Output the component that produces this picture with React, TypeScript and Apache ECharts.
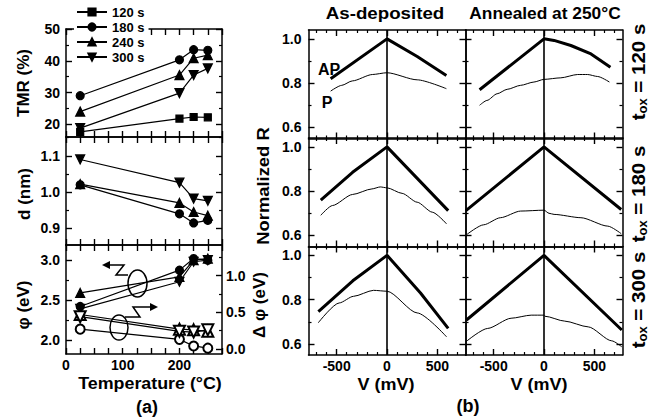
import React, { useEffect, useRef } from 'react';
import * as echarts from 'echarts';

const FONT = '"Liberation Sans", Arial, Helvetica, sans-serif';

// ---------- Panel (a) ----------
const temps = [25, 200, 225, 250];
const legendNames = ['120 s', '180 s', '240 s', '300 s'];
const tmr120 = [17.6, 21.8, 22.3, 22.2];
const tmr180 = [29.0, 40.3, 43.5, 43.3];
const tmr240 = [24.0, 35.5, 40.8, 41.8];
const tmr300 = [18.8, 29.8, 35.5, 37.6];
const d180 = [1.02, 0.94, 0.915, 0.922];
const d240 = [1.022, 0.97, 0.945, 0.935];
const d300 = [1.09, 1.026, 0.982, 0.976];
const phi180 = [2.42, 2.875, 3.02, 3.0];
const phi240 = [2.59, 2.79, 3.0, 3.02];
const phi300 = [2.39, 2.73, 2.98, 3.0];
const dphi180 = [0.27, 0.13, 0.04, 0.01];
const dphi240 = [0.47, 0.27, 0.26, 0.24];
const dphi300 = [0.44, 0.24, 0.23, 0.26];

const tempTicks = [0, 25, 50, 75, 100, 125, 150, 175, 200, 225, 250, 275];
const tempLabels = [0, 100, 200];
const tmrLabels = [20, 30, 40, 50];
const tmrMinor = [25, 35, 45];
const dLabels = [0.9, 1.0, 1.1];
const dMinor = [0.95, 1.05, 1.15];
const phiLabels = [2.0, 2.5, 3.0];
const phiMinor = [2.25, 2.75];
const dphiLabels = [0.0, 0.5, 1.0];
const dphiMinor = [0.25, 0.75, 1.25];

// ---------- Panel (b) ----------
const vLabels = [-500, 0, 500];
const vMinor = [-700, -600, -400, -300, -200, -100, 100, 200, 300, 400, 600, 700];
const rLabels = [0.6, 0.8, 1.0];
const rMinor = [0.7, 0.9];
const rowNames = ['120 s', '180 s', '300 s'];
const colTitles = ['As-deposited', 'Annealed at 250°C'];

// t_ox = 120 s
const v120DepAP = [-560, 0, 300, 590];
const r120DepAP = [0.82, 1.0, 0.92, 0.835];
const v120DepP = [-560, -450, -345, -145, 0, 300, 590];
const r120DepP = [0.764, 0.79, 0.81, 0.839, 0.847, 0.815, 0.775];
const v120AnnAP = [-640, -320, 0, 100, 267, 467, 660];
const r120AnnAP = [0.77, 0.885, 1.0, 0.993, 0.97, 0.932, 0.872];
const v120AnnP = [-640, -566, -466, -366, -233, -100, 0, 167, 334, 433, 533, 650];
const r120AnnP = [0.70, 0.722, 0.752, 0.772, 0.79, 0.805, 0.817, 0.824, 0.839, 0.839, 0.83, 0.805];
// t_ox = 180 s
const v180DepAP = [-658, -342, 0, 608];
const r180DepAP = [0.759, 0.885, 1.0, 0.712];
const v180DepP = [-658, -542, -342, -150, -67, 0, 150, 300, 450, 592];
const r180DepP = [0.691, 0.735, 0.785, 0.81, 0.819, 0.815, 0.79, 0.75, 0.705, 0.652];
const v180AnnAP = [-776, 0, 767];
const r180AnnAP = [0.712, 1.0, 0.717];
const v180AnnP = [-767, -600, -433, -233, 0, 50, 100, 367, 634, 767];
const r180AnnP = [0.604, 0.648, 0.68, 0.71, 0.714, 0.70, 0.695, 0.68, 0.642, 0.608];
// t_ox = 300 s
const v300DepAP = [-682, -340, 0, 333, 608];
const r300DepAP = [0.746, 0.885, 1.0, 0.83, 0.67];
const v300DepP = [-682, -475, -333, -134, 0, 300, 592];
const r300DepP = [0.696, 0.785, 0.815, 0.842, 0.838, 0.74, 0.632];
const v300AnnAP = [-770, 0, 773];
const r300AnnAP = [0.708, 1.0, 0.663];
const v300AnnP = [-770, -560, -327, -127, 0, 10, 206, 440, 673, 773];
const r300AnnP = [0.612, 0.67, 0.716, 0.73, 0.73, 0.725, 0.703, 0.677, 0.614, 0.587];

const curvesB = [
  [[v120DepAP, r120DepAP, v120DepP, r120DepP], [v120AnnAP, r120AnnAP, v120AnnP, r120AnnP]],
  [[v180DepAP, r180DepAP, v180DepP, r180DepP], [v180AnnAP, r180AnnAP, v180AnnP, r180AnnP]],
  [[v300DepAP, r300DepAP, v300DepP, r300DepP], [v300AnnAP, r300AnnAP, v300AnnP, r300AnnP]],
];

const zip = (xs: number[], ys: number[]) => xs.map((x, i) => [x, ys[i]]);

type Side = 'left' | 'right' | 'top' | 'bottom';
function addAxis(
  list: any[], grid: number, pos: Side, min: number, max: number,
  major: number[], minor: number[], labels: number[] | null, dec: number, margin: number,
): number {
  const idx = list.length;
  const common = {
    type: 'value', gridIndex: grid, position: pos, min, max,
    splitLine: { show: false }, splitArea: { show: false },
  };
  list.push({
    ...common,
    axisLine: { show: true, onZero: false, lineStyle: { color: '#000', width: 1.5 } },
    axisTick: { show: true, inside: true, length: 6, customValues: major, lineStyle: { color: '#000', width: 1.4 } },
    axisLabel: labels
      ? {
          show: true, customValues: labels, margin,
          formatter: (v: number) => v.toFixed(dec),
          color: '#000', fontFamily: FONT, fontWeight: 'bold', fontSize: 14, lineHeight: 14,
        }
      : { show: false },
  });
  if (minor.length) {
    list.push({
      ...common,
      axisLine: { show: false, onZero: false },
      axisTick: { show: true, inside: true, length: 3, customValues: minor, lineStyle: { color: '#000', width: 1.2 } },
      axisLabel: { show: false },
    });
  }
  return idx;
}

function buildOption() {
  const grids: any[] = [];
  const xAxes: any[] = [];
  const yAxes: any[] = [];
  const series: any[] = [];

  // Panel (a) grids
  const aTops = [29, 137, 245];
  const aHeights = [108, 108, 109];
  const aX: number[] = [];
  const aY: number[] = [];
  let dphiAxis = 0;
  const aYSpecs = [
    { min: 16, max: 50, lab: tmrLabels, minor: tmrMinor, dec: 0 },
    { min: 0.854, max: 1.152, lab: dLabels, minor: dMinor, dec: 1 },
    { min: 1.825, max: 3.19, lab: phiLabels, minor: phiMinor, dec: 1 },
  ];
  for (let g = 0; g < 3; g++) {
    grids.push({ left: 66, top: aTops[g], width: 156, height: aHeights[g], outerBoundsMode: 'none' });
    aX.push(addAxis(xAxes, g, 'bottom', 0, 275, tempTicks, [], g === 2 ? tempLabels : null, 0, 4));
    addAxis(xAxes, g, 'top', 0, 275, tempTicks, [], null, 0, 4);
    const s = aYSpecs[g];
    aY.push(addAxis(yAxes, g, 'left', s.min, s.max, s.lab, s.minor, s.lab, s.dec, 6));
    if (g < 2) addAxis(yAxes, g, 'right', s.min, s.max, s.lab, s.minor, null, 0, 4);
    else dphiAxis = addAxis(yAxes, g, 'right', -0.07, 1.42, dphiLabels, dphiMinor, dphiLabels, 1, 4);
  }

  const mk = (name: string, g: number, yIdx: number, vals: number[], symbol: string, size: number, rot = 0) => ({
    type: 'line', name, xAxisIndex: aX[g], yAxisIndex: yIdx,
    data: zip(temps, vals), symbol, symbolSize: size, symbolRotate: rot,
    showSymbol: true, lineStyle: { color: '#000', width: 1.2 },
    itemStyle: { color: '#000', borderColor: '#000', borderWidth: 1.2 },
    z: 3,
  });
  series.push(mk(legendNames[0], 0, aY[0], tmr120, 'rect', 7));
  series.push(mk(legendNames[1], 0, aY[0], tmr180, 'circle', 8));
  series.push(mk(legendNames[2], 0, aY[0], tmr240, 'triangle', 9));
  series.push(mk(legendNames[3], 0, aY[0], tmr300, 'triangle', 9, 180));
  series.push(mk('d 180 s', 1, aY[1], d180, 'circle', 8));
  series.push(mk('d 240 s', 1, aY[1], d240, 'triangle', 9));
  series.push(mk('d 300 s', 1, aY[1], d300, 'triangle', 9, 180));
  series.push(mk('phi 180 s', 2, aY[2], phi180, 'circle', 8));
  series.push(mk('phi 240 s', 2, aY[2], phi240, 'triangle', 9));
  series.push(mk('phi 300 s', 2, aY[2], phi300, 'triangle', 9, 180));
  series.push(mk('dphi 180 s', 2, dphiAxis, dphi180, 'emptyCircle', 9));
  series.push(mk('dphi 240 s', 2, dphiAxis, dphi240, 'emptyTriangle', 11));
  series.push(mk('dphi 300 s', 2, dphiAxis, dphi300, 'emptyTriangle', 11, 180));

  // Panel (b) grids
  const bLefts = [308.5, 465.5];
  const bTops = [30, 138, 246.5];
  for (let r = 0; r < 3; r++) {
    for (let c = 0; c < 2; c++) {
      const g = grids.length;
      grids.push({ left: bLefts[c], top: bTops[r], width: 157, height: 108.5, outerBoundsMode: 'none' });
      const xi = addAxis(xAxes, g, 'bottom', -780, 780, vLabels, vMinor, r === 2 ? vLabels : null, 0, 4);
      addAxis(xAxes, g, 'top', -780, 780, vLabels, vMinor, null, 0, 4);
      const yi = addAxis(yAxes, g, 'left', 0.55, 1.04, rLabels, rMinor, c === 0 ? rLabels : null, 1, 7);
      addAxis(yAxes, g, 'right', 0.55, 1.04, rLabels, rMinor, null, 1, 4);
      const [vAP, rAP, vP, rP] = curvesB[r][c];
      series.push({
        type: 'line', name: `AP ${rowNames[r]} ${colTitles[c]}`, xAxisIndex: xi, yAxisIndex: yi,
        data: zip(vAP, rAP), showSymbol: false, symbol: 'none',
        lineStyle: { color: '#000', width: 3 }, z: 3,
        markLine: {
          silent: true, symbol: 'none', animation: false,
          label: { show: false },
          lineStyle: { color: '#000', width: 1.6, type: 'solid' },
          data: [{ xAxis: 0 }],
        },
      });
      series.push({
        type: 'line', name: `P ${rowNames[r]} ${colTitles[c]}`, xAxisIndex: xi, yAxisIndex: yi,
        data: zip(vP, rP), showSymbol: false, symbol: 'none',
        smooth: 0.25, smoothMonotone: 'x',
        lineStyle: { color: '#000', width: 1 }, z: 3,
      });
    }
  }

  const txt = (text: string, x: number, y: number, size: number, rot = 0, sx = 1) => ({
    type: 'text', x, y, rotation: rot, scaleX: sx, z: 20,
    style: {
      text, fill: '#000', align: 'center', verticalAlign: 'middle',
      font: `bold ${size}px ${FONT}`,
    },
  });
  const R90 = Math.PI / 2;
  const toxLabel = (name: string, y: number) => ({
    type: 'text', x: 638, y, rotation: R90, scaleX: 1.08, z: 20,
    style: {
      text: `{t|t}{s|ox}{t| = ${name}}`, fill: '#000', align: 'center', verticalAlign: 'middle',
      rich: {
        t: { fontFamily: FONT, fontWeight: 'bold', fontSize: 19, lineHeight: 22, fill: '#000' },
        s: { fontFamily: FONT, fontWeight: 'bold', fontSize: 12, lineHeight: 22, verticalAlign: 'bottom', fill: '#000' },
      },
    },
  });

  const stroke = { stroke: '#000', lineWidth: 1.5, fill: 'none' };
  const graphic = [
    txt('TMR (%)', 23, 83, 17, R90),
    txt('d (nm)', 24, 194, 17, R90),
    txt('φ (eV)', 23, 305, 17, R90),
    txt('Δ φ (eV)', 259, 305, 17, R90),
    txt('Temperature (°C)', 150, 383, 17, 0, 1.05),
    txt('(a)', 147, 407, 18),
    txt('Normalized R', 263, 186, 17, R90, 1.08),
    txt('As-deposited', 385, 13, 17, 0, 1.1),
    txt('Annealed at 250°C', 545, 13, 17, 0, 1.02),
    txt('V (mV)', 386, 384, 17, 0, 1.06),
    txt('V (mV)', 539, 384, 17, 0, 1.06),
    txt('(b)', 468, 406, 18),
    txt('AP', 329, 69, 16),
    txt('P', 327, 102, 16),
    toxLabel(rowNames[0], 72),
    toxLabel(rowNames[1], 194),
    toxLabel(rowNames[2], 300),
    // annotation: left-pointing arrow with ellipse (phi, left axis)
    { type: 'ellipse', z: 15, shape: { cx: 137.5, cy: 283.5, rx: 9.5, ry: 13.5 }, style: { ...stroke } },
    { type: 'polyline', z: 15, shape: { points: [[108, 265], [124, 265], [116, 275], [128, 275]] }, style: { ...stroke } },
    { type: 'polygon', z: 15, shape: { points: [[102, 265], [110, 261], [110, 269]] }, style: { fill: '#000' } },
    // annotation: right-pointing arrow with ellipse (delta phi, right axis)
    { type: 'ellipse', z: 15, shape: { cx: 119, cy: 327.5, rx: 9, ry: 12.5 }, style: { ...stroke } },
    { type: 'polyline', z: 15, shape: { points: [[125, 317], [140, 317], [133, 307], [151, 307]] }, style: { ...stroke } },
    { type: 'polygon', z: 15, shape: { points: [[158, 307], [150, 303], [150, 311]] }, style: { fill: '#000' } },
  ];

  return {
    animation: false,
    backgroundColor: '#fff',
    grid: grids,
    xAxis: xAxes,
    yAxis: yAxes,
    series,
    legend: {
      data: legendNames, orient: 'vertical', left: 74, top: 3,
      itemWidth: 30, itemHeight: 9, itemGap: 1,
      backgroundColor: '#fff', padding: [2, 4, 2, 2], z: 10,
      textStyle: { fontFamily: FONT, fontWeight: 'bold', fontSize: 13, color: '#000', lineHeight: 14 },
      selectedMode: false,
    },
    graphic,
  };
}

export default function App() {
  const ref = useRef<HTMLDivElement>(null);
  useEffect(() => {
    if (!ref.current) return;
    const chart = echarts.init(ref.current, undefined, { renderer: 'svg' });
    chart.setOption(buildOption() as any);
    return () => chart.dispose();
  }, []);
  return (
    <div
      ref={ref}
      style={{ position: 'fixed', left: 0, top: 0, width: 657, height: 420, background: '#fff' }}
    />
  );
}
